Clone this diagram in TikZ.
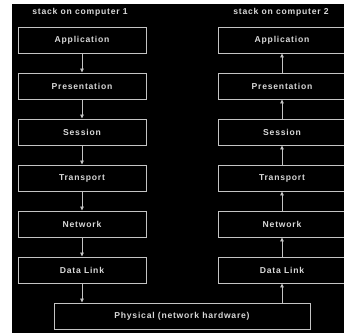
\documentclass[tikz,border=0pt]{standalone}
\usepackage{fontspec}
\setmainfont{Liberation Sans}[LetterSpace=9]
\usetikzlibrary{arrows.meta}
\definecolor{ink}{HTML}{D8D8D8}
\definecolor{rule}{HTML}{C4C4C4}
\begin{document}
\begin{tikzpicture}[x=1pt,y=-1pt,
  layer/.style={draw=rule,line width=0.9pt,minimum width=128pt,minimum height=26pt,
    inner sep=0pt,text=ink,font=\bfseries\fontsize{8.6}{10}\selectfont},
  caption/.style={text=ink,font=\bfseries\fontsize{8.6}{10}\selectfont,inner sep=0pt},
  flow/.style={draw=rule,line width=0.8pt,-{Triangle[length=4pt,width=3.5pt]}}]
  \useasboundingbox (0,0) rectangle (344,333);
  \fill[white] (0,0) rectangle (344,333);
  \begin{scope}
    \clip (12,4) rectangle (344,333);
    \fill[black] (12,4) rectangle (344,333);
    \node[caption] (t1) at (80,12) {stack on computer 1};
    \node[caption] (t2) at (281,12) {stack on computer 2};
    % sending stack
    \node[layer] (a1) at (82,40) {Application};
    \node[layer] (p1) at (82,86) {Presentation};
    \node[layer] (s1) at (82,132) {Session};
    \node[layer] (tr1) at (82,178) {Transport};
    \node[layer] (n1) at (82,224) {Network};
    \node[layer] (d1) at (82,270) {Data Link};
    % receiving stack
    \node[layer] (a2) at (282,40) {Application};
    \node[layer] (p2) at (282,86) {Presentation};
    \node[layer] (s2) at (282,132) {Session};
    \node[layer] (tr2) at (282,178) {Transport};
    \node[layer] (n2) at (282,224) {Network};
    \node[layer] (d2) at (282,270) {Data Link};
    % shared medium
    \node[layer,minimum width=256pt] (ph) at (182,316) {Physical (network hardware)};
    % down the first stack
    \draw[flow] (a1) -- (p1);
    \draw[flow] (p1) -- (s1);
    \draw[flow] (s1) -- (tr1);
    \draw[flow] (tr1) -- (n1);
    \draw[flow] (n1) -- (d1);
    \draw[flow] (d1.south) -- (d1.south |- ph.north);
    % up the second stack
    \draw[flow] (d2.south |- ph.north) -- (d2.south);
    \draw[flow] (d2) -- (n2);
    \draw[flow] (n2) -- (tr2);
    \draw[flow] (tr2) -- (s2);
    \draw[flow] (s2) -- (p2);
    \draw[flow] (p2) -- (a2);
  \end{scope}
\end{tikzpicture}
\end{document}
